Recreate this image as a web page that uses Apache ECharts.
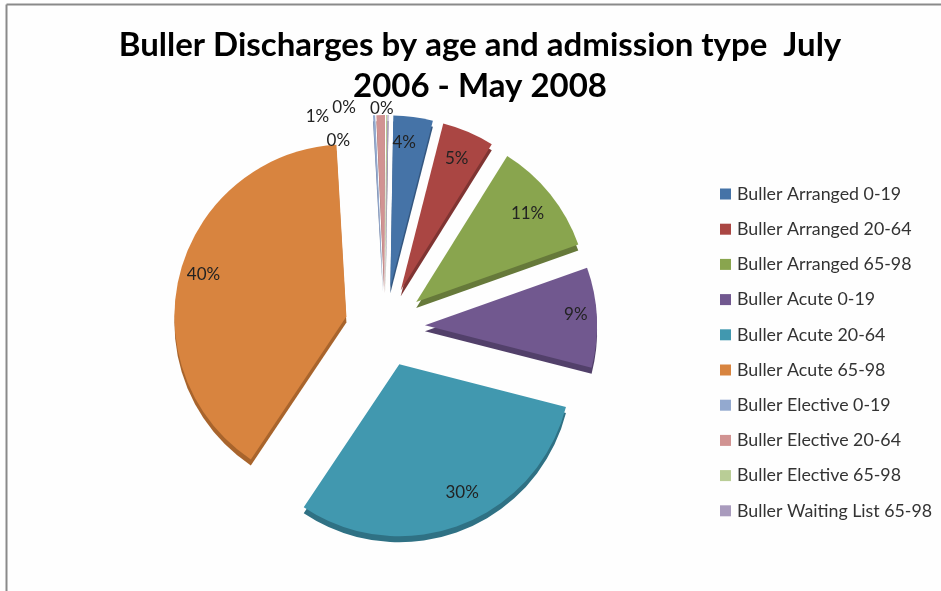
<!DOCTYPE html>
<html><head><meta charset="utf-8">
<style>html,body{margin:0;padding:0;background:#fefefe}#c{width:941px;height:591px}</style>
<script src="https://cdn.jsdelivr.net/npm/echarts@6/dist/echarts.min.js"></script>
</head><body><div id="c"></div>
<script>
const titleText = 'Buller Discharges by age and admission type  July\n2006 - May 2008';
const categories = ['Buller Arranged 0-19','Buller Arranged 20-64','Buller Arranged 65-98','Buller Acute 0-19','Buller Acute 20-64','Buller Acute 65-98','Buller Elective 0-19','Buller Elective 20-64','Buller Elective 65-98','Buller Waiting List 65-98'];
const values = [3.7,4.9,10.7,9.4,30.4,39.7,0.2,0.8,0.1,0.1];
const colors = ['#4573a7','#aa4643','#89a54e','#71588f','#4198af','#d8843f','#93a9cf','#d19392','#b9cd96','#a99bbd'];
const depthColors = ['#345780','#7f3432','#66793a','#52406a','#2f7184','#a8642c','#6f80a0','#a06f6e','#8c9c70','#7f748e'];
// label nudges relative to each slice's default inside label position
const labelNudges = [[2,-57],[21,-50],[42,-33],[62,-7],[31,45],[-57,-19],[-40,-58],[-65,-82],[-42,-90],[-5,-89]];
const chart = echarts.init(document.getElementById('c'));
const makeData = cols => categories.map((name,i)=>({name, value:values[i], selected:true, itemStyle:{color:cols[i]}}));
const base = {type:'pie', radius:[0,172], startAngle:89, clockwise:true, percentPrecision:0, selectedMode:'multiple', selectedOffset:40, animation:false, labelLine:{show:false}};
chart.setOption({
  animation:false,
  backgroundColor:'#fefefe',
  title:{text:titleText,left:475,top:20,textAlign:'center',textStyle:{fontFamily:'Lato',fontWeight:'bold',fontSize:33,lineHeight:41,color:'#000'}},
  legend:{orient:'vertical',left:715,top:180,itemWidth:11,itemHeight:11,itemGap:17.2,icon:'rect',data:categories,selectedMode:false,textStyle:{fontFamily:'Lato',fontSize:17.8,color:'#333',padding:[0,0,0,1]}},
  graphic:[
    {type:'line',shape:{x1:6.5,y1:4.5,x2:941,y2:4.5},style:{stroke:'#8a8a8a',lineWidth:2},z:0},
    {type:'line',shape:{x1:6.5,y1:4.5,x2:6.5,y2:591},style:{stroke:'#8a8a8a',lineWidth:2},z:0}
  ],
  series:[
    Object.assign({},base,{name:'top',z:3,center:[385,327],data:makeData(colors),
      label:{show:true,position:'inside',formatter:'{d}%',fontFamily:'Lato',fontSize:17,color:'#222'},
      labelLayout:p=>({dx:labelNudges[p.dataIndex][0],dy:labelNudges[p.dataIndex][1]})}),
    Object.assign({},base,{name:'depth',z:2,center:[385,333],data:makeData(depthColors),label:{show:false}})
  ]
});
</script></body></html>
